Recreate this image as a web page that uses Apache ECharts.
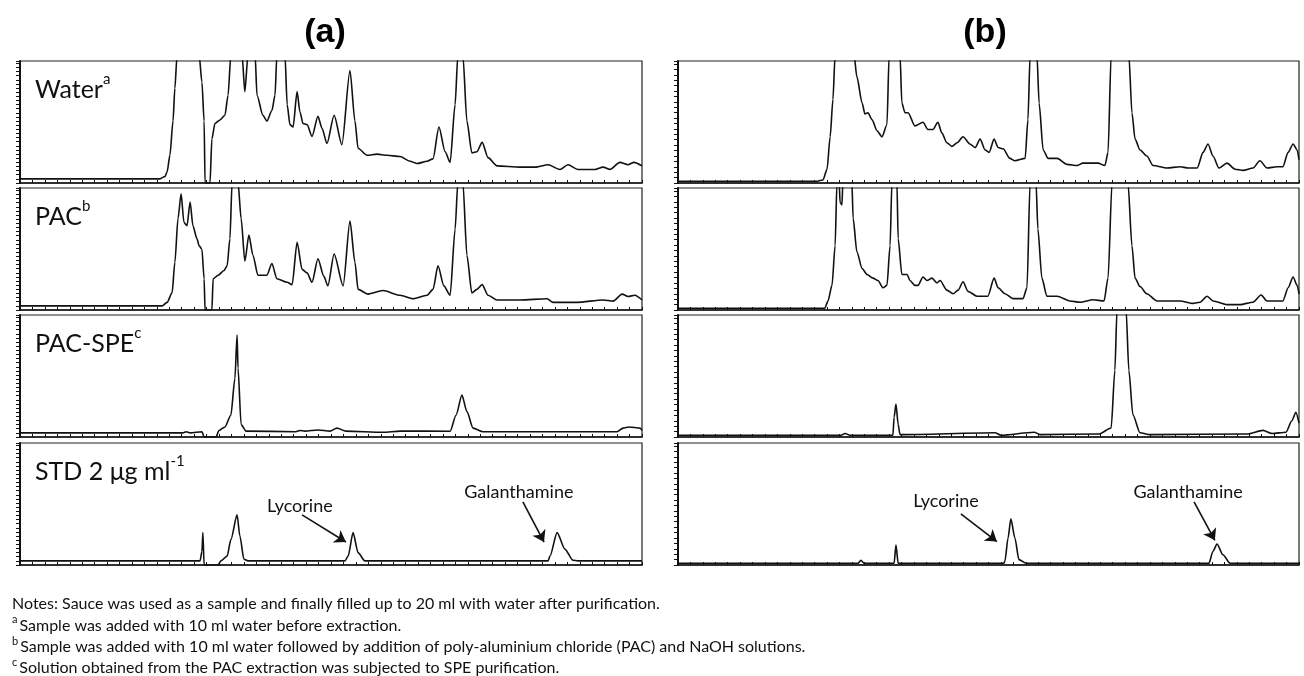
<!DOCTYPE html>
<html>
<head>
<meta charset="utf-8">
<title>HPLC chromatograms</title>
<script src="https://cdn.jsdelivr.net/npm/echarts@6/dist/echarts.min.js"></script>
<style>
  html, body { margin: 0; padding: 0; background: #fff; }
  #chart { width: 1304px; height: 676px; }
</style>
</head>
<body>
<div id="chart"></div>
<script>
// [retention time (min), response (% of panel full scale)]
// values over 100 are off-scale peaks, clipped by the panel frame
var waterA = [
  [0, 0], [4.5, 0], [4.66, 2], [4.73, 6], [4.82, 20], [4.92, 49], [4.98, 77], [5.05, 105],
  [5.76, 105], [5.85, 82], [5.92, 49], [5.95, -3.5], [6.11, -3.5], [6.17, 34], [6.27, 47],
  [6.43, 50], [6.59, 54], [6.69, 71], [6.78, 105], [7.14, 105], [7.23, 74], [7.33, 105],
  [7.56, 105], [7.62, 71], [7.81, 54], [7.94, 49], [8.1, 58], [8.2, 71], [8.26, 105],
  [8.52, 105], [8.59, 63], [8.68, 46], [8.78, 44], [8.91, 74], [9.0, 57], [9.1, 47],
  [9.23, 46], [9.39, 36], [9.58, 53], [9.71, 43], [9.87, 30], [10.1, 54], [10.35, 29],
  [10.61, 92], [10.77, 49], [10.87, 26], [11.16, 20], [11.48, 21], [11.8, 20], [12.22, 19],
  [12.54, 15], [12.77, 13], [13.09, 15], [13.28, 17], [13.47, 44], [13.67, 23], [13.83, 14],
  [13.99, 63], [14.08, 105], [14.24, 105], [14.37, 49], [14.53, 22], [14.69, 23], [14.86, 31],
  [15.05, 18], [15.34, 11], [16.08, 10], [16.56, 10], [16.98, 12], [17.36, 8], [17.62, 12],
  [17.94, 8], [18.49, 8], [18.75, 10], [18.97, 8], [19.29, 14], [19.55, 12], [19.74, 14], [20, 11]
]
var pacA = [
  [0, 0], [4.57, 0], [4.73, 3], [4.89, 11], [4.98, 37], [5.08, 74], [5.18, 95], [5.27, 71],
  [5.37, 68], [5.47, 88], [5.56, 68], [5.69, 57], [5.76, 51], [5.85, 48], [5.92, 23],
  [5.95, -3.5], [6.17, -3.5], [6.21, 23], [6.37, 26], [6.56, 30], [6.66, 34], [6.75, 57],
  [6.82, 105], [7.01, 105], [7.11, 74], [7.23, 38], [7.36, 60], [7.49, 43], [7.65, 26],
  [7.94, 26], [8.1, 36], [8.26, 23], [8.59, 20], [8.75, 18], [8.91, 54], [9.07, 31],
  [9.23, 28], [9.39, 20], [9.58, 40], [9.77, 25], [9.9, 17], [10.1, 44], [10.39, 17],
  [10.61, 72], [10.77, 37], [10.87, 14], [11.19, 10], [11.67, 13], [12.22, 9], [12.64, 6],
  [13.09, 9], [13.28, 14], [13.44, 34], [13.63, 17], [13.83, 9], [13.99, 65], [14.08, 105],
  [14.24, 105], [14.37, 43], [14.53, 11], [14.69, 14], [14.86, 18], [15.05, 9], [15.34, 5],
  [16.08, 5], [16.95, 6], [17.14, 3], [17.91, 3], [18.75, 5], [19.07, 4], [19.36, 10],
  [19.55, 8], [19.77, 9], [20, 5]
]
var pacSpeA = [
  [0, 0], [5.24, 0], [5.34, 1], [5.47, 0], [5.85, 1], [5.92, -3.5], [6.3, -3.5], [6.4, 2],
  [6.59, 5], [6.78, 15], [6.91, 46], [6.98, 83], [7.01, 55], [7.11, 7], [7.27, 1.5],
  [8.87, 1], [9.0, 2], [9.16, 1.5], [9.58, 2.5], [9.97, 1.5], [10.19, 4], [10.48, 1.5],
  [11.67, 0.5], [12.22, 1.5], [13.83, 1.4], [14.02, 15], [14.21, 32], [14.37, 18],
  [14.57, 4], [14.89, 1], [19.2, 1], [19.39, 4], [19.58, 5], [19.94, 4], [20, 2]
]
var stdA = [
  [0, 0], [5.79, 0], [5.85, 8], [5.88, 24], [5.92, -3.5], [6.37, -3.5], [6.46, 0], [6.66, 4],
  [6.78, 18], [6.98, 39], [7.07, 21], [7.2, 1.4], [7.33, 0], [10.45, 0], [10.55, 4],
  [10.71, 24], [10.87, 7], [11.09, 0], [16.98, 0], [17.04, 4], [17.27, 24], [17.52, 10],
  [17.78, 0.5], [17.94, 0], [20, 0]
]
var waterB = [
  [0, 0], [4.48, 0], [4.67, 1], [4.8, 10], [4.9, 37], [4.99, 68], [5.06, 105], [5.67, 105],
  [5.76, 87], [5.93, 65], [6.02, 56], [6.12, 57], [6.25, 51], [6.41, 42], [6.57, 37],
  [6.73, 47], [6.8, 105], [7.15, 105], [7.21, 65], [7.31, 57], [7.41, 57], [7.63, 46],
  [7.89, 49], [8.05, 43], [8.21, 43], [8.37, 49], [8.5, 40], [8.66, 32], [8.82, 29],
  [8.99, 32], [9.18, 37], [9.4, 31], [9.57, 28], [9.73, 35], [9.89, 26], [10.02, 24],
  [10.18, 35], [10.31, 28], [10.47, 27], [10.69, 19], [10.85, 17], [11.18, 19], [11.27, 51],
  [11.34, 105], [11.56, 105], [11.63, 65], [11.76, 26], [11.92, 19], [12.21, 19], [12.53, 14],
  [12.85, 13], [13.04, 15], [13.53, 15], [13.75, 13], [13.85, 24], [13.95, 105], [14.52, 105],
  [14.62, 57], [14.72, 35], [14.88, 26], [15.1, 21], [15.3, 13], [15.75, 11], [16.17, 12],
  [16.43, 11], [16.72, 11], [16.91, 24], [17.07, 31], [17.23, 21], [17.42, 11], [17.68, 15],
  [17.94, 10], [18.2, 9], [18.52, 11], [18.74, 17], [18.97, 11], [19.29, 12], [19.48, 12],
  [19.65, 24], [19.81, 31], [19.94, 26], [20, 18]
]
var pacB = [
  [0, 0], [4.73, 0], [4.83, 6], [4.96, 19], [5.06, 52], [5.12, 105], [5.19, 105], [5.22, 88],
  [5.28, 86], [5.31, 105], [5.6, 105], [5.64, 75], [5.76, 47], [5.93, 33], [6.09, 28],
  [6.28, 25], [6.44, 23], [6.6, 17], [6.73, 19], [6.83, 52], [6.89, 105], [7.05, 105],
  [7.09, 58], [7.21, 28], [7.38, 28], [7.47, 23], [7.63, 19], [7.73, 19], [7.89, 26],
  [8.02, 23], [8.18, 25], [8.34, 21], [8.44, 23], [8.66, 15], [8.86, 12], [9.02, 15],
  [9.18, 22], [9.34, 14], [9.63, 10], [9.98, 10], [10.18, 25], [10.31, 17], [10.53, 12],
  [10.79, 8], [11.11, 8], [11.24, 17], [11.34, 105], [11.53, 105], [11.59, 66], [11.72, 25],
  [11.88, 10], [12.21, 10], [12.62, 6], [12.95, 5], [13.37, 7], [13.72, 6], [13.85, 25],
  [13.98, 105], [14.49, 105], [14.62, 52], [14.72, 25], [14.88, 18], [15.1, 12], [15.43, 6],
  [16.17, 6], [16.59, 4], [16.81, 5], [17.04, 10], [17.23, 6], [17.68, 3], [18.1, 3],
  [18.52, 5], [18.78, 11], [18.97, 6], [19.48, 6], [19.65, 17], [19.81, 26], [19.94, 19], [20, 12]
]
var pacSpeB = [
  [0, 0], [5.25, 0], [5.38, 1.4], [5.54, 0], [6.92, 0], [6.96, 15], [7.02, 26], [7.09, 9],
  [7.15, 0.5], [10.21, 2], [10.4, 0], [11.47, 2.5], [11.66, 0.5], [13.56, 1], [13.95, 6],
  [14.07, 54], [14.14, 105], [14.43, 105], [14.52, 54], [14.65, 17], [14.88, 2], [15.2, 0.5],
  [18.33, 1], [18.84, 4], [19.13, 1.4], [19.58, 2.5], [19.77, 12], [19.9, 19], [20, 10]
]
var stdB = [
  [0, 0], [5.8, 0], [5.89, 2.5], [5.99, 0], [6.96, 0], [7.02, 15], [7.09, 0], [10.5, 0],
  [10.53, 2], [10.63, 21], [10.72, 37], [10.85, 21], [10.98, 3], [11.21, 0], [17.1, 0],
  [17.23, 10], [17.36, 16], [17.55, 7], [17.78, 0], [20, 0]
]

var columnTitles = ['(a)', '(b)']
var panelLabels = [
  '{n|Water}{s|a}',
  '{n|PAC}{s|b}',
  '{n|PAC-SPE}{s|c}',
  '{n|STD 2 \u03bcg ml}{s|-1}'
]
// [label, text anchor, arrow start, arrow end] for the STD panels
var peakNotesA = [
  ['Lycorine', [9.0, 46], [9.07, 39], [10.48, 16]],
  ['Galanthamine', [16.04, 58], [16.17, 50], [16.85, 16]]
]
var peakNotesB = [
  ['Lycorine', [8.63, 52], [9.11, 41], [10.27, 18]],
  ['Galanthamine', [16.43, 59], [16.62, 51], [17.29, 19]]
]
var notes = [
  ['', 'Notes: Sauce was used as a sample and finally filled up to 20 ml with water after purification.'],
  ['a', 'Sample was added with 10 ml water before extraction.'],
  ['b', 'Sample was added with 10 ml water followed by addition of poly-aluminium chloride (PAC) and NaOH solutions.'],
  ['c', 'Solution obtained from the PAC extraction was subjected to SPE purification.']
]

var traces = [waterA, pacA, pacSpeA, stdA, waterB, pacB, pacSpeB, stdB]
var rowTops = [61, 188, 315, 443]
var colLefts = [20, 678]
var colWidths = [622, 621]
var yMins = [-3.5, -1.5]

var grids = []
var xAxes = []
var yAxes = []
var series = []

for (var i = 0; i < traces.length; i++) {
  var col = i < 4 ? 0 : 1
  var row = i % 4
  grids.push({
    left: colLefts[col], top: rowTops[row], width: colWidths[col], height: 122,
    show: true, borderColor: '#222', borderWidth: 1.2, backgroundColor: 'transparent'
  })
  xAxes.push({
    gridIndex: i, type: 'value', min: 0, max: 20, interval: 0.4,
    axisLine: { onZero: false, lineStyle: { color: '#111', width: 1.5 } },
    axisTick: { inside: true, length: 3, lineStyle: { color: '#111' } },
    axisLabel: { show: false },
    splitLine: { show: false }
  })
  yAxes.push({
    gridIndex: i, type: 'value', min: yMins[col], max: 100, interval: col === 0 ? 3.5 : 4.5,
    axisLine: { show: true, lineStyle: { color: '#111', width: 2 } },
    axisTick: { show: true, length: 4, lineStyle: { color: '#111' } },
    axisLabel: { show: false },
    splitLine: { show: false }
  })
  var s = {
    type: 'line', xAxisIndex: i, yAxisIndex: i, data: traces[i],
    symbol: 'none', clip: true, silent: true,
    smooth: 0.25, smoothMonotone: 'x',
    lineStyle: { color: '#111', width: 1.6 }
  }
  if (row === 3) {
    var pn = col === 0 ? peakNotesA : peakNotesB
    s.markLine = {
      silent: true, symbol: ['none', 'arrow'], symbolSize: 11,
      lineStyle: { color: '#111', width: 1.6, type: 'solid' },
      label: { show: false },
      data: pn.map(function (p) { return [{ coord: p[2] }, { coord: p[3] }] })
    }
    s.markPoint = {
      silent: true, symbol: 'circle', symbolSize: 1,
      itemStyle: { color: 'transparent' },
      label: {
        show: true, position: 'inside', color: '#111', fontSize: 18,
        fontFamily: 'Lato', formatter: function (p) { return p.name }
      },
      data: pn.map(function (p) { return { name: p[0], coord: p[1] } })
    }
  }
  series.push(s)
}

var graphics = []
columnTitles.forEach(function (t, c) {
  graphics.push({
    type: 'text', x: c === 0 ? 325 : 985, y: 33,
    style: { text: t, font: 'bold 34px "Liberation Sans"', fill: '#000', textAlign: 'center', textVerticalAlign: 'middle' }
  })
})
panelLabels.forEach(function (t, r) {
  graphics.push({
    type: 'text', x: 35, y: rowTops[r] + 11,
    style: {
      text: t, fill: '#111',
      rich: {
        n: { fontSize: 25, fontFamily: 'Lato', lineHeight: 30, verticalAlign: 'bottom' },
        s: { fontSize: 15, fontFamily: 'Lato', lineHeight: 30, verticalAlign: 'top' }
      }
    }
  })
})
notes.forEach(function (n, k) {
  graphics.push({
    type: 'text', x: 12, y: 593 + k * 21.4,
    style: {
      text: (n[0] ? '{s|' + n[0] + '}' : '') + '{t|' + n[1] + '}', fill: '#111',
      rich: {
        t: { fontSize: 16, fontFamily: 'Lato', lineHeight: 19, verticalAlign: 'bottom' },
        s: { fontSize: 11, fontFamily: 'Lato', lineHeight: 19, verticalAlign: 'top', padding: [0, 2, 0, 0] }
      }
    }
  })
})

var option = {
  animation: false,
  backgroundColor: '#fff',
  grid: grids,
  xAxis: xAxes,
  yAxis: yAxes,
  series: series,
  graphic: graphics
}

var chart = echarts.init(document.getElementById('chart'))
chart.setOption(option)
</script>
</body>
</html>
